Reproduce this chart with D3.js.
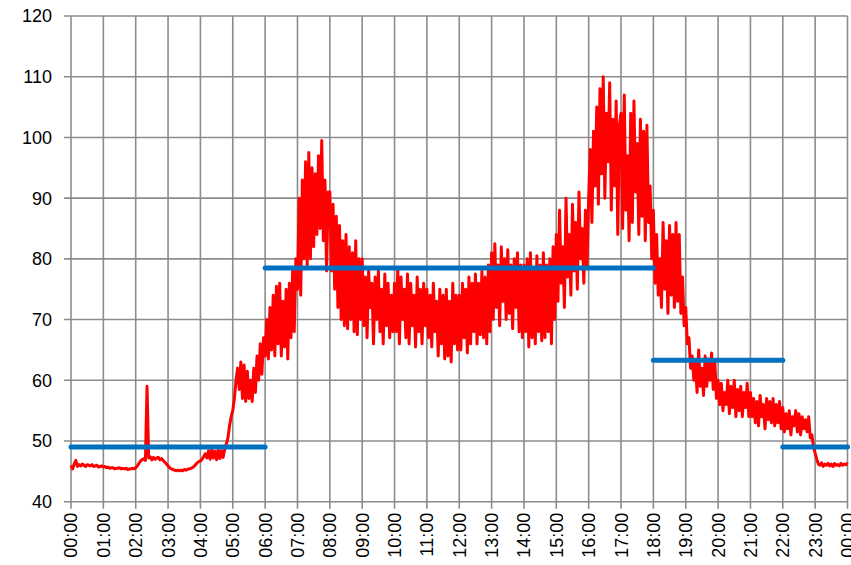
<!DOCTYPE html>
<html>
<head>
<meta charset="utf-8">
<script src="https://cdn.jsdelivr.net/npm/d3@7"></script>
<style>
  body { margin: 0; background: #fff; }
  text { font-family: "Liberation Sans", Arial, sans-serif; fill: #000; }
</style>
</head>
<body>
<svg id="chart"></svg>
<script>
// x tick labels (one per hour, last one wraps to 00:00)
var hourLabels = ["00:00","01:00","02:00","03:00","04:00","05:00","06:00","07:00","08:00",
  "09:00","10:00","11:00","12:00","13:00","14:00","15:00","16:00","17:00","18:00",
  "19:00","20:00","21:00","22:00","23:00","00:00"];
var yTicks = [40, 50, 60, 70, 80, 90, 100, 110, 120];

// measured load, one reading every 3 minutes (20 per hour)
var stepMinutes = 3;
var load = [
  46,45.4,46.2,46.8,45.8,46.1,45.9,46.2,46,45.8,46.1,46,45.9,46.1,45.8,45.9,46,45.7,45.8,45.9,          // 00
  45.7,45.8,45.6,45.7,45.5,45.6,45.6,45.4,45.5,45.5,45.6,45.4,45.5,45.4,45.5,45.3,45.4,45.4,45.5,45.4,  // 01
  45.6,45.9,46.3,46.7,46.9,47.1,46.8,59,47.2,47.4,46.9,47.3,47,47.2,47.3,46.9,47.1,46.8,46.5,46.2,      // 02
  45.9,45.6,45.4,45.3,45.2,45.1,45.2,45.1,45.2,45.1,45.3,45.2,45.3,45.4,45.5,45.6,45.8,46.1,46.4,46.6,  // 03
  46.7,47,47.4,47.9,47.2,48.4,47,48.6,47.2,48.3,46.9,48.5,47.1,48.4,47.3,48.6,49.5,50.5,52.5,54,        // 04
  55,57,60,62,58.5,63,57,62.5,56.5,61.5,57,60,56.5,62,58,64,60,66,61,67,                                // 05
  64,70,63.5,72,65,74,64,75.5,66,76,64,73,65.5,75,63.5,76,67,78,68,80,                                  // 06
  75,90,74,93,80,96,79,97.5,80,95,82,94,84,97,85,99.5,83,93,78,91,                                      // 07
  91,78,89,75,87,72,85.5,70,83,69,84,68.5,82,70,81,68,83,67.5,80,70,                                    // 08
  80,69,77,67,78,72,76,66,77,70,78,68,75,66,77.5,69,76,67,74,68,                                        // 09
  76,68,78.5,66,77,70,75,67,77.5,66,76,69,74,65.5,77,68,75,66,76,69,                                    // 10
  75,67,74,65.5,76,68,73,64,75,66,74,63.5,75,64,73,63,76,66,74,65,                                      // 11
  74,65,76,67,75,64.5,77,66,76,68,77.5,66,76,67.5,78,67,77,66,79,68,                                    // 12
  81,70,82.5,72,79,69,82,73,80,70,81.5,71,79,68.5,80,72,81,68,79,67,                                    // 13
  79,68,80,65.5,81,67,78,66,80.5,68,79,66.5,81,67,79,68,80,66,82,70,                                    // 14
  84,73,88,76,82,72,90,77,84,74,89,78,86,75,91,80,85,76,88,79,                                          // 15
  90,98,86,101,92,105,89,108,94,110,90,104,96,109,88,103,92,106,84,102,                                 // 16
  104,85,107,88,97,83,104,86,106,91,99,84,103,87,101,83,102,86,92,80,                                   // 17
  88,76,84,74,80,72,86,75,83,71,85.5,74,84,72,86,73,84,71,77,69,                                        // 18
  72,66,67,62,64,60,63,58,65,59,62,57.5,64,59,63.5,60,64.5,58.5,63,57,                                  // 19
  60,56,59.5,55,58,56,60,54.5,59,55.5,60,54,58.5,55,59,54,58,55.5,59.5,54,                              // 20
  58,54,57,53,56.5,52.5,57.5,54,56,52,57,53.5,56.5,53,57,52.5,56,53,56.5,52,                            // 21
  55.5,51.5,54.5,52,55,51,54,52.5,55,51.5,54.5,51,54,52,53.5,51.5,54,50.5,51,49,                        // 22
  48,47,46.2,46,46.4,45.8,46.2,46,46.3,45.9,46.2,45.8,46.3,46,46.1,45.9,46.3,46,46.2,46.1,              // 23
  46.4
];

// target levels (blue steps), hours
var targetStart = [0, 6, 18, 22];
var targetEnd = [6, 18, 22, 24];
var targetValue = [49, 78.5, 63.3, 49];

var width = 851, height = 565;
var margin = {left: 71, right: 3.5, top: 16, bottom: 63.3};

var svg = d3.select("#chart")
  .attr("width", width)
  .attr("height", height);

var x = d3.scaleLinear()
  .domain([0, 24])
  .range([margin.left, width - margin.right]);

var y = d3.scaleLinear()
  .domain([40, 120])
  .range([height - margin.bottom, margin.top]);

var gridColour = "#8c8c8c";

// horizontal grid + y tick marks
svg.append("g")
  .selectAll("line")
  .data(yTicks)
  .enter().append("line")
  .attr("x1", x(0) - 7)
  .attr("x2", x(24))
  .attr("y1", function(d) { return y(d); })
  .attr("y2", function(d) { return y(d); })
  .attr("stroke", gridColour)
  .attr("stroke-width", 1.6);

// vertical grid + x tick marks
svg.append("g")
  .selectAll("line")
  .data(hourLabels)
  .enter().append("line")
  .attr("x1", function(d, i) { return x(i); })
  .attr("x2", function(d, i) { return x(i); })
  .attr("y1", y(120))
  .attr("y2", y(40) + 7)
  .attr("stroke", gridColour)
  .attr("stroke-width", 1.6);

// y labels
svg.append("g")
  .selectAll("text")
  .data(yTicks)
  .enter().append("text")
  .attr("x", x(0) - 19)
  .attr("y", function(d) { return y(d); })
  .attr("dy", "0.36em")
  .style("text-anchor", "end")
  .style("font-size", "18px")
  .text(function(d) { return d; });

// x labels, rotated
svg.append("g")
  .selectAll("text")
  .data(hourLabels)
  .enter().append("text")
  .attr("transform", function(d, i) {
    return "translate(" + x(i) + "," + (y(40) + 11) + ") rotate(-90)";
  })
  .attr("dy", "0.36em")
  .style("text-anchor", "end")
  .style("font-size", "18px")
  .text(function(d) { return d; });

// red measured line
var line = d3.line()
  .x(function(d, i) { return x(i * stepMinutes / 60); })
  .y(function(d) { return y(d); });

svg.append("path")
  .datum(load)
  .attr("d", line)
  .attr("fill", "none")
  .attr("stroke", "#ff0000")
  .attr("stroke-width", 3)
  .attr("stroke-linejoin", "round");

// blue target steps
svg.append("g")
  .selectAll("line")
  .data(targetValue)
  .enter().append("line")
  .attr("x1", function(d, i) { return x(targetStart[i]); })
  .attr("x2", function(d, i) { return x(targetEnd[i]); })
  .attr("y1", function(d) { return y(d); })
  .attr("y2", function(d) { return y(d); })
  .attr("stroke", "#0070c0")
  .attr("stroke-width", 5)
  .attr("stroke-linecap", "round");
</script>
</body>
</html>
